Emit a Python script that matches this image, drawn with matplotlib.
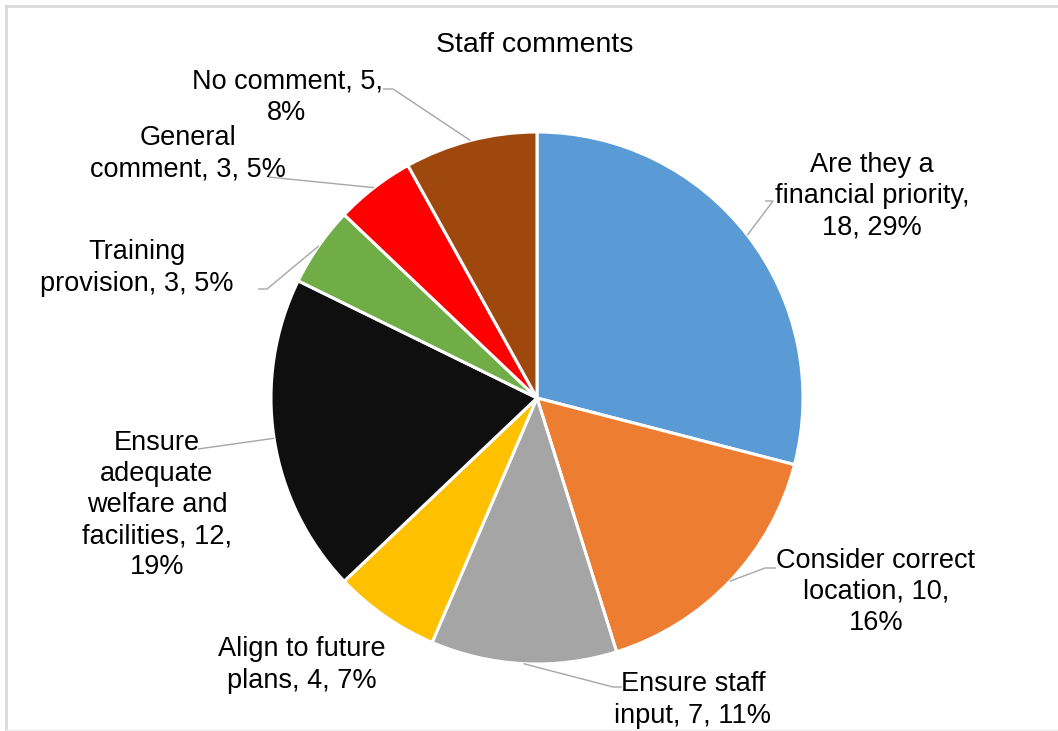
import numpy as np
import matplotlib
matplotlib.use("Agg")
import matplotlib.pyplot as plt

plt.rcParams['font.family'] = ['Liberation Sans', 'DejaVu Sans']

# --- data -------------------------------------------------------------
categories = [
    "Are they a\nfinancial priority,",
    "Consider correct\nlocation,",
    "Ensure staff\ninput,",
    "Align to future\nplans,",
    "Ensure\nadequate\nwelfare and\nfacilities,",
    "Training\nprovision,",
    "General\ncomment,",
    "No comment,",
]
counts = [18, 10, 7, 4, 12, 3, 3, 5]
percents = [29, 16, 11, 7, 19, 5, 5, 8]
colors = ["#5B9BD5", "#ED7D31", "#A5A5A5", "#FFC000",
          "#0F0F0F", "#70AD47", "#FF0000", "#9E480E"]

label_texts = [
    "Are they a\nfinancial priority,\n18, 29%",
    "Consider correct\nlocation, 10,\n16%",
    "Ensure staff\ninput, 7, 11%",
    "Align to future\nplans, 4, 7%",
    "Ensure\nadequate\nwelfare and\nfacilities, 12,\n19%",
    "Training\nprovision, 3, 5%",
    "General\ncomment, 3, 5%",
    "No comment, 5,\n8%",
]

# --- canvas in pixel units -------------------------------------------
W, H = 1058, 731
fig = plt.figure(figsize=(W / 100, H / 100), dpi=100)
ax = fig.add_axes([0, 0, 1, 1])


def py(y):
    """Convert a top-down pixel row to the y-up axis coordinate."""
    return H - y


cx, cy, R = 537, py(398), 266

wedges, _ = ax.pie(counts, colors=colors, startangle=90, counterclock=False,
                   center=(cx, cy), radius=R,
                   wedgeprops=dict(edgecolor="white", linewidth=2.2))
ax.set_xlim(0, W)
ax.set_ylim(0, H)
ax.set_aspect("equal")
ax.axis("off")

# chart-area border (top and left visible, bottom faint)
ax.plot([6, W], [py(6), py(6)], color="#D9D9D9", linewidth=2, zorder=0)
ax.plot([6, 6], [py(6), py(729)], color="#D9D9D9", linewidth=2, zorder=0)
ax.plot([6, W], [py(729.5), py(729.5)], color="#EFEFEF", linewidth=1, zorder=0)

ax.text(535, py(45), "Staff comments", ha="center", va="center",
        fontsize=20.5, color="#000000")

# label centres (pixels) and the point where each leader meets the text
label_pos = [(872, 196), (876, 592), (693, 700), (302, 665),
             (157, 505), (137, 268), (188, 154), (287, 97)]
leader_end = [[(773, 201), (765, 201)],
              [(765, 568), (776, 568)],
              [(613, 687), (622, 687)],
              None,
              [(198, 449)],
              [(267, 289), (258, 289)],
              [(268, 177)],
              [(393, 89), (383, 89)]]

for w, txt, (lx, ly), lead in zip(wedges, label_texts, label_pos, leader_end):
    mid = np.deg2rad((w.theta1 + w.theta2) / 2)
    ex, ey = cx + R * np.cos(mid), cy + R * np.sin(mid)
    if lead is not None:
        xs = [ex] + [p[0] for p in lead]
        ys = [ey] + [py(p[1]) for p in lead]
        ax.plot(xs, ys, color="#A6A6A6", linewidth=1, solid_capstyle="butt")
    ax.text(lx, py(ly), txt, ha="center", va="center", multialignment="center",
            fontsize=19.5, linespacing=1.26, color="#000000")

fig.savefig("out.png", dpi=100, facecolor="white")
